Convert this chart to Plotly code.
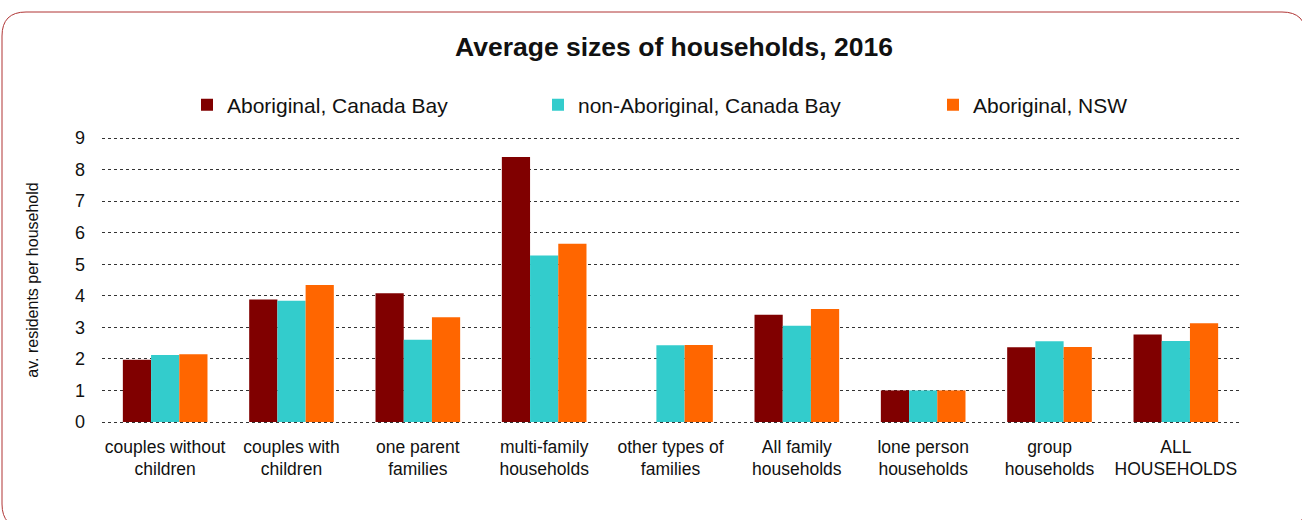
import plotly.graph_objects as go

# Household types (x categories)
categories = [
    "couples without<br>children",
    "couples with<br>children",
    "one parent<br>families",
    "multi-family<br>households",
    "other types of<br>families",
    "All family<br>households",
    "lone person<br>households",
    "group<br>households",
    "ALL<br>HOUSEHOLDS",
]

# Average residents per household, by group
aboriginal_canada_bay = [1.97, 3.88, 4.08, 8.40, None, 3.40, 1.00, 2.37, 2.77]
non_aboriginal_canada_bay = [2.12, 3.84, 2.61, 5.28, 2.43, 3.05, 1.00, 2.56, 2.57]
aboriginal_nsw = [2.15, 4.34, 3.32, 5.65, 2.44, 3.58, 1.00, 2.38, 3.13]

series_names = ["Aboriginal, Canada Bay", "non-Aboriginal, Canada Bay", "Aboriginal, NSW"]
series_values = [aboriginal_canada_bay, non_aboriginal_canada_bay, aboriginal_nsw]
series_colors = ["#800000", "#33CCCC", "#FF6600"]
legend_ids = ["legend", "legend2", "legend3"]

W, H = 1302, 520
# a small pad beyond 0 and 9 so the gridlines at the ends are drawn
PAD_PX = 2
ML, MR, MT, MB = 102, 63, 138 - PAD_PX, 98 - PAD_PX
PW, PH = W - ML - MR, H - MT - MB
Y_PAD = 9 * PAD_PX / (PH - 2 * PAD_PX)
FONT = "Liberation Sans, Arial, sans-serif"


def fx(px):
    return (px - ML) / PW


def fy(py):
    return (H - MB - py) / PH


fig = go.Figure()
for name, vals, color, lg in zip(series_names, series_values, series_colors, legend_ids):
    fig.add_trace(go.Bar(
        x=categories, y=vals, name=name, legend=lg, showlegend=True,
        marker=dict(color=color, line=dict(width=0)),
    ))

# Rounded frame around the whole chart
x0, y0, x1, y1, r = 2, 12, 1306, 528, 24
path = (
    f"M {fx(x0)},{fy(y0 + r)} "
    f"Q {fx(x0)},{fy(y0)} {fx(x0 + r)},{fy(y0)} "
    f"L {fx(x1 - r)},{fy(y0)} "
    f"Q {fx(x1)},{fy(y0)} {fx(x1)},{fy(y0 + r)} "
    f"L {fx(x1)},{fy(y1 - r)} "
    f"Q {fx(x1)},{fy(y1)} {fx(x1 - r)},{fy(y1)} "
    f"L {fx(x0 + r)},{fy(y1)} "
    f"Q {fx(x0)},{fy(y1)} {fx(x0)},{fy(y1 - r)} Z"
)

legend_common = dict(
    orientation="h", yanchor="middle", xanchor="left", y=fy(105),
    font=dict(family=FONT, size=21, color="#111"), bgcolor="rgba(0,0,0,0)",
    itemwidth=30, visible=True,
)
legend_text_x = [229, 580, 975]

fig.update_layout(
    width=W, height=H,
    margin=dict(l=ML, r=MR, t=MT, b=MB),
    paper_bgcolor="white", plot_bgcolor="white",
    font=dict(family=FONT, color="#111"),
    showlegend=True,
    barmode="group", bargap=0.33, bargroupgap=0,
    title=dict(
        text="<b>Average sizes of households, 2016</b>",
        x=fx(674), xref="paper", xanchor="center",
        y=1 - 47 / H, yanchor="middle",
        font=dict(family=FONT, size=26.5, color="#111"),
    ),
    legend=dict(**legend_common, x=fx(legend_text_x[0] - 42)),
    legend2=dict(**legend_common, x=fx(legend_text_x[1] - 42)),
    legend3=dict(**legend_common, x=fx(legend_text_x[2] - 42)),
    xaxis=dict(
        tickfont=dict(family=FONT, size=17.5, color="#111"),
        showgrid=False, showline=False, ticks="",
        ticklabelstandoff=10,
    ),
    yaxis=dict(
        range=[-Y_PAD, 9 + Y_PAD], dtick=1, tick0=0,
        tickfont=dict(family=FONT, size=18, color="#111"),
        showgrid=True, gridcolor="#333", gridwidth=1, griddash="dot",
        zeroline=False, showline=False, ticks="",
        ticklabelstandoff=16,
        title=dict(text="av. residents per household",
                   font=dict(family=FONT, size=16, color="#111"), standoff=32),
    ),
    shapes=[dict(type="path", path=path, xref="paper", yref="paper",
                 line=dict(color="#B03535", width=1), layer="above")],
)

fig.write_html("out.html")
